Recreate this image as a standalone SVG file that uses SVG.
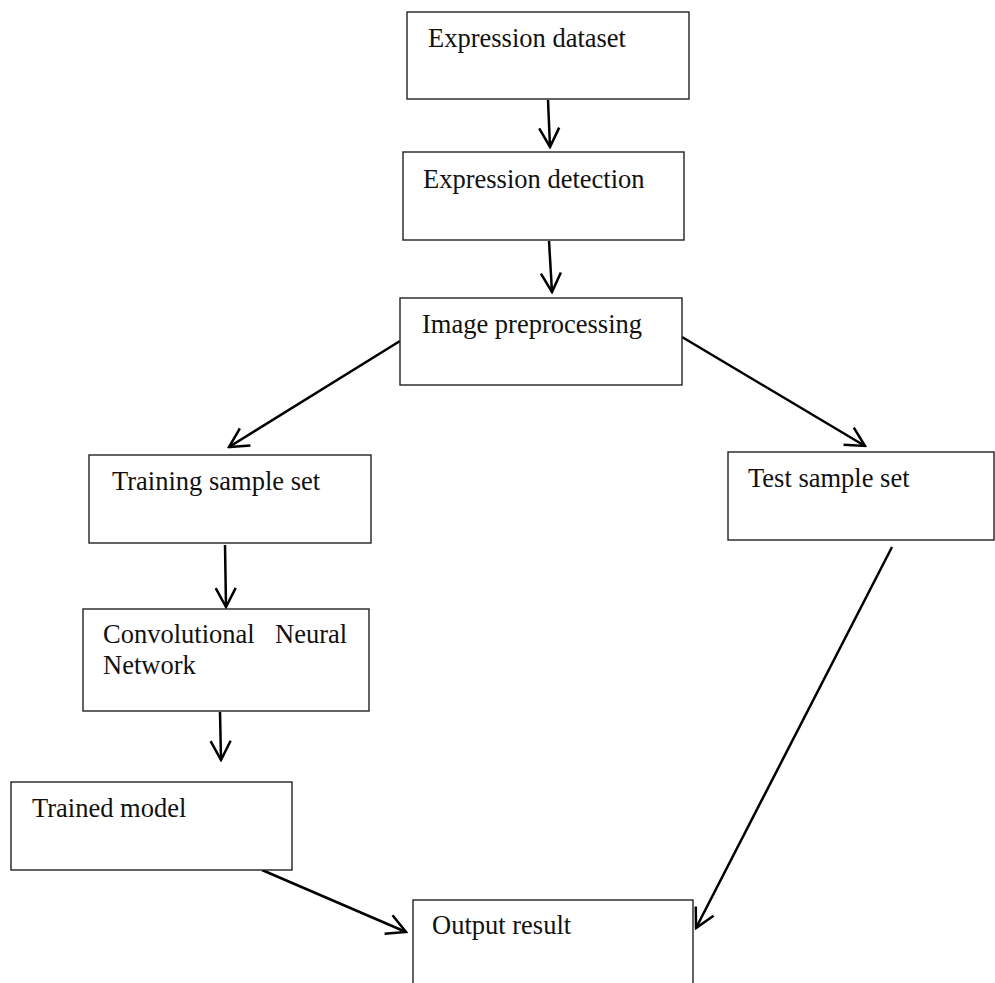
<svg xmlns="http://www.w3.org/2000/svg" width="995" height="983" viewBox="0 0 995 983">
<style>
.box{fill:#fff;stroke:#222;stroke-width:1.4}
.lbl{font-family:"Liberation Serif","Times New Roman",serif;font-size:26.5px;fill:#111}
.con{fill:none;stroke:#000;stroke-width:2.5;marker-end:url(#ah)}
</style>
<defs>
<marker id="ah" markerUnits="userSpaceOnUse" viewBox="-22 -12 24 24" refX="0" refY="0" markerWidth="24" markerHeight="24" orient="auto">
<path d="M-19,-10 L0,0 L-19,10" fill="none" stroke="#000" stroke-width="2.5" stroke-linejoin="miter"/>
</marker>
</defs>
<rect width="995" height="983" fill="#fff"/>
<g id="connectors">
<line class="con" x1="548" y1="100" x2="550" y2="147"/>
<line class="con" x1="549" y1="241" x2="552" y2="292"/>
<line class="con" x1="400" y1="341" x2="229" y2="447"/>
<line class="con" x1="682" y1="337" x2="865" y2="446"/>
<line class="con" x1="225" y1="545" x2="226" y2="607"/>
<line class="con" x1="220" y1="712" x2="221" y2="760"/>
<line class="con" x1="892" y1="547" x2="696" y2="928"/>
<line class="con" x1="262" y1="870" x2="406" y2="932"/>
</g>
<g id="n1"><rect class="box" x="407" y="12" width="282" height="87"/><text class="lbl" x="428" y="47">Expression dataset</text></g>
<g id="n2"><rect class="box" x="403" y="152" width="281" height="88"/><text class="lbl" x="423" y="188">Expression detection</text></g>
<g id="n3"><rect class="box" x="400" y="298" width="282" height="87"/><text class="lbl" x="422" y="333">Image preprocessing</text></g>
<g id="n4"><rect class="box" x="89" y="455" width="282" height="88"/><text class="lbl" x="112" y="490">Training sample set</text></g>
<g id="n5"><rect class="box" x="728" y="452" width="266" height="88"/><text class="lbl" x="748" y="487">Test sample set</text></g>
<g id="n6"><rect class="box" x="83" y="609" width="286" height="102"/><text class="lbl" y="643"><tspan x="103">Convolutional</tspan> <tspan x="275">Neural</tspan></text><text class="lbl" x="103" y="674">Network</text></g>
<g id="n7"><rect class="box" x="11" y="782" width="281" height="88"/><text class="lbl" x="32" y="817">Trained model</text></g>
<g id="n8"><rect class="box" x="413" y="900" width="280" height="100"/><text class="lbl" x="432" y="934">Output result</text></g>
</svg>
